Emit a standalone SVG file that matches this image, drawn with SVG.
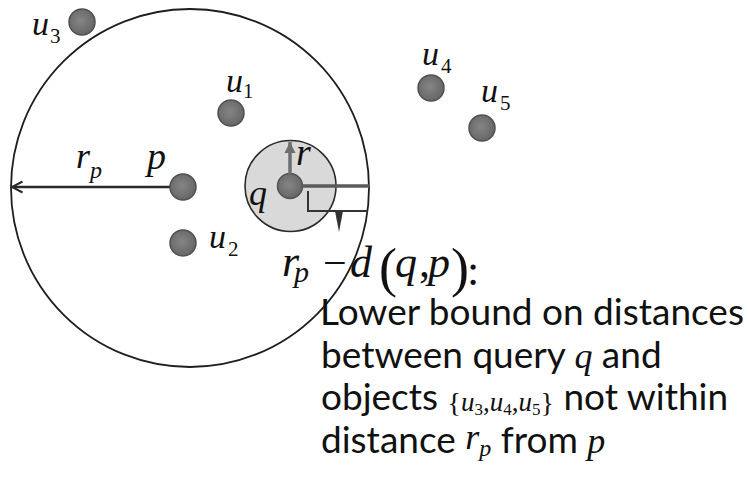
<svg xmlns="http://www.w3.org/2000/svg" width="748" height="485" viewBox="0 0 748 485">
  <defs>
    <radialGradient id="dotg" cx="45%" cy="45%" r="60%">
      <stop offset="0" stop-color="#858585"/>
      <stop offset="1" stop-color="#646464"/>
    </radialGradient>
    <marker id="openhead" markerWidth="14" markerHeight="14" refX="12" refY="7" orient="auto" markerUnits="userSpaceOnUse">
      <path d="M1.5,1.5 L12,7 L1.5,12.5" fill="none" stroke="#2a2a2a" stroke-width="2"/>
    </marker>
    <marker id="grayhead" markerWidth="14" markerHeight="14" refX="12" refY="7" orient="auto" markerUnits="userSpaceOnUse">
      <path d="M1,1.5 L12,7 L1,12.5 Z" fill="#6e6e6e"/>
    </marker>
  </defs>
  <style>
    .dot { fill: url(#dotg); stroke: #505050; stroke-width: 1.5; }
    .m { font-family: "Liberation Serif", "Times New Roman", serif; font-style: italic; fill: #111; }
    .mr { font-family: "Liberation Serif", "Times New Roman", serif; font-style: normal; fill: #111; }
    .s { font-family: Lato, "Open Sans", "Liberation Sans", sans-serif; font-size: 37px; fill: #111; }
  </style>
  <rect width="748" height="485" fill="#ffffff"/>

  <!-- range circle of p -->
  <g id="range-p">
    <circle cx="190" cy="188" r="179" fill="none" stroke="#1e1e1e" stroke-width="1.8"/>
  </g>

  <!-- query region -->
  <g id="q">
    <circle cx="290.5" cy="186" r="45.5" fill="#d9d9d9" stroke="#2a2a2a" stroke-width="1.6"/>
    <circle class="dot" cx="290" cy="186" r="12.5"/>
    <text class="m" x="249" y="205" font-size="36">q</text>
    <text class="m" x="296" y="165" font-size="38">r</text>
  </g>

  <g id="connectors">
    <line x1="170" y1="187" x2="12" y2="187" stroke="#2a2a2a" stroke-width="2.5" marker-end="url(#openhead)"/>
    <line x1="290" y1="174" x2="290" y2="142" stroke="#6e6e6e" stroke-width="3.5" marker-end="url(#grayhead)"/>
    <line x1="301" y1="186" x2="369" y2="186" stroke="#5a5a5a" stroke-width="3.5"/>
    <path d="M308,191 V211 H368" fill="none" stroke="#333" stroke-width="2"/>
    <path d="M335,211 L339,232 L343,211 Z" fill="#333"/>
  </g>

  <g id="p">
    <circle class="dot" cx="183" cy="187" r="13"/>
    <text class="m" x="147" y="169" font-size="38">p</text>
    <text class="m" x="76" y="168" font-size="36">r</text>
    <text class="m" x="90" y="178" font-size="24">p</text>
  </g>

  <g id="u1">
    <circle class="dot" cx="231" cy="113" r="13"/>
    <text class="m" x="226" y="92" font-size="34">u</text>
    <text class="mr" x="243" y="98" font-size="21">1</text>
  </g>
  <g id="u2">
    <circle class="dot" cx="183" cy="243" r="13"/>
    <text class="m" x="209" y="248" font-size="34">u</text>
    <text class="mr" x="228" y="256" font-size="21">2</text>
  </g>
  <g id="u3">
    <circle class="dot" cx="82" cy="22" r="13"/>
    <text class="m" x="32" y="35" font-size="34">u</text>
    <text class="mr" x="50" y="43" font-size="21">3</text>
  </g>
  <g id="u4">
    <circle class="dot" cx="431" cy="88" r="13"/>
    <text class="m" x="422" y="65" font-size="34">u</text>
    <text class="mr" x="441" y="73" font-size="21">4</text>
  </g>
  <g id="u5">
    <circle class="dot" cx="482" cy="128" r="13"/>
    <text class="m" x="481" y="102" font-size="34">u</text>
    <text class="mr" x="500" y="110" font-size="21">5</text>
  </g>

  <g id="annotation">
    <text class="m" x="282" y="276" font-size="44">r<tspan font-size="30" x="294" y="282">p</tspan></text>
    <text class="mr" x="323" y="277" font-size="42">−</text>
    <text class="m" x="350" y="277" font-size="44">d</text>
    <text class="mr" x="379" y="286" font-size="54">(</text>
    <text class="m" x="395" y="277" font-size="44">q</text>
    <text class="mr" x="419" y="277" font-size="44">,</text>
    <text class="m" x="428" y="277" font-size="44">p</text>
    <text class="mr" x="451" y="286" font-size="54">)</text>
    <text class="mr" x="467" y="285" font-size="44">:</text>

    <text class="s" x="320" y="325">Lower bound on distances</text>

    <text class="s" x="321" y="367.5">between query <tspan class="m" font-size="36">q</tspan> and</text>

    <text class="s" x="321" y="410">objects <tspan class="mr" font-size="28" dy="2">{</tspan><tspan class="m" font-size="27" dy="-1">u</tspan><tspan class="mr" font-size="17" dy="4">3</tspan><tspan class="mr" font-size="27" dy="-4">,</tspan><tspan class="m" font-size="27">u</tspan><tspan class="mr" font-size="17" dy="4">4</tspan><tspan class="mr" font-size="27" dy="-4">,</tspan><tspan class="m" font-size="27">u</tspan><tspan class="mr" font-size="17" dy="4">5</tspan><tspan class="mr" font-size="28" dy="-3">}</tspan><tspan dy="-2"> not within</tspan></text>

    <text class="s" x="321" y="452.5">distance <tspan class="m" font-size="36" dy="-4">r</tspan><tspan class="m" font-size="24" dy="7">p</tspan><tspan dy="-3"> from </tspan><tspan class="m" font-size="36">p</tspan></text>
  </g>
</svg>
